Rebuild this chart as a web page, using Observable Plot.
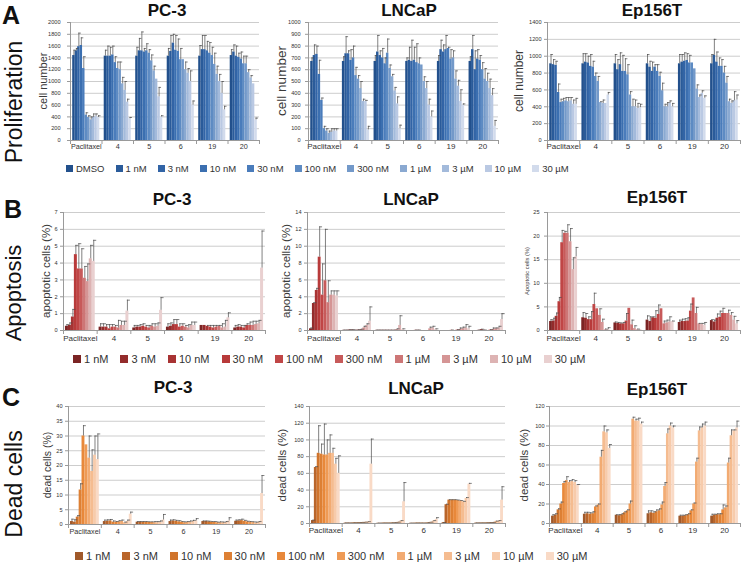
<!DOCTYPE html>
<html><head><meta charset="utf-8">
<script src="https://cdn.jsdelivr.net/npm/d3@7"></script>
<script src="https://cdn.jsdelivr.net/npm/@observablehq/plot@0.6"></script>
<style>
body{margin:0;background:#fff;}
#root{position:relative;width:745px;height:563px;overflow:hidden;font-family:"Liberation Sans",Arial,sans-serif;color:#222}
.abs{position:absolute;white-space:nowrap;line-height:1}
.legend{position:absolute;display:flex;align-items:center;white-space:nowrap;color:#333}
.legend .it{display:flex;align-items:center}
.legend .sw{display:inline-block}
</style></head>
<body><div id="root"></div>
<script>
const compounds = ["Paclitaxel", "4", "5", "6", "19", "20"];
const seriesA = ["DMSO","1 nM","3 nM","10 nM","30 nM","100 nM","300 nM","1 µM","3 µM","10 µM","30 µM"];
const seriesBC = ["1 nM","3 nM","10 nM","30 nM","100 nM","300 nM","1 µM","3 µM","10 µM","30 µM"];
const colorsA = ["#22508c","#2a5b9a","#3264a6","#3b6fb0","#4a7cbb","#5d8bc3","#7399c9","#8aa9d1","#a3badb","#bac9e3","#d2dbec"];
const colorsB = ["#7b2424","#932b2b","#a83333","#b83a3a","#c04646","#c75a5a","#cd7676","#d59595","#ddb3b3","#e9d0d0"];
const colorsC = ["#a0592a","#b9652a","#d0742c","#dd8034","#e8883a","#ee9a55","#f2ab72","#f5bc90","#f7cbab","#f9dac6"];

// A: cell number (mean, upper end of error bar), per compound
const pc3Prolif = [
 [1440,1520,1590,1610,1220,430,390,350,390,410,390],
 [1430,1430,1430,1450,1320,1220,1200,960,850,650,370],
 [1430,1520,1520,1500,1520,1480,1350,1180,1040,740,400],
 [1430,1510,1650,1530,1510,1370,1370,1200,1140,1000,600],
 [1430,1540,1540,1520,1480,1440,1290,1120,1000,800,520],
 [1440,1500,1430,1410,1380,1300,1300,1150,1060,960,350]];
const pc3ProlifUpper = [
 [1530,1560,1820,1740,1420,470,420,400,450,450,420],
 [1530,1600,1580,1600,1420,1330,1330,1070,1000,700,390],
 [1580,1730,1840,1560,1640,1540,1450,1260,1040,900,420],
 [1560,1780,1800,1780,1720,1560,1370,1330,1220,1180,670],
 [1610,1780,1780,1680,1660,1580,1480,1260,1120,1000,580],
 [1540,1620,1600,1480,1500,1430,1430,1200,1100,960,380]];
const lncapProlif = [
 [670,720,730,560,340,100,80,60,70,80,80],
 [670,735,735,680,700,550,520,440,330,330,90],
 [670,750,720,700,650,740,610,540,420,310,100],
 [670,680,670,680,660,650,640,500,440,300,200],
 [670,770,750,770,780,690,700,520,460,330,300],
 [670,770,600,690,680,600,520,500,440,380,120]];
const lncapProlifUpper = [
 [700,810,800,680,360,120,100,80,100,100,100],
 [710,880,760,770,800,620,550,500,350,340,120],
 [720,890,760,780,700,860,640,560,450,370,130],
 [700,790,850,790,820,700,640,540,500,350,250],
 [720,850,810,890,790,770,760,590,510,430,310],
 [710,890,760,770,720,660,610,570,520,440,170]];
const ep156Prolif = [
 [910,900,890,570,450,460,470,460,470,430,430],
 [910,930,920,880,870,760,700,450,440,440,540],
 [910,840,900,820,820,780,540,400,400,380,390],
 [910,870,820,870,820,760,590,400,400,440,400],
 [910,930,940,950,920,920,850,610,510,560,500],
 [910,1010,930,880,880,800,680,460,440,470,480]];
const ep156ProlifUpper = [
 [1020,960,940,670,490,500,510,510,510,480,500],
 [1030,1030,1000,1020,940,800,760,460,480,440,570],
 [1020,960,1040,1010,970,900,580,490,480,440,430],
 [1020,940,930,900,900,810,680,430,450,470,440],
 [1020,1020,1040,1030,1010,920,850,660,540,590,530],
 [1020,1200,1050,980,960,880,760,490,470,580,540]];

// B: apoptotic cells (%)
const pc3Apop = [
 [0.25,0.3,0.8,4.5,3.65,3.65,3.1,2.9,4.25,4.1],
 [0.2,0.2,0.2,0.1,0.2,0.2,0.15,0.3,0.3,1.15],
 [0.15,0.2,0.2,0.25,0.2,0.15,0.25,0.2,0.25,1.2],
 [0.2,0.25,0.35,0.35,0.2,0.25,0.2,0.15,0.3,0.3],
 [0.3,0.3,0.25,0.2,0.15,0.2,0.25,0.15,0.2,0.75],
 [0.15,0.2,0.2,0.15,0.3,0.3,0.3,0.35,0.4,3.7]];
const pc3ApopUpper = [
 [0.35,0.45,1.25,5.05,5.15,4.85,3.8,3.95,5.05,5.35],
 [0.4,0.4,0.35,0.35,0.35,0.3,0.6,0.55,0.55,1.8],
 [0.3,0.3,0.35,0.4,0.3,0.3,0.4,0.4,0.45,1.95],
 [0.4,0.45,0.65,0.65,0.4,0.4,0.3,0.35,0.5,0.5],
 [0.3,0.3,0.3,0.3,0.3,0.3,0.3,0.4,0.6,1.05],
 [0.3,0.35,0.3,0.3,0.4,0.5,0.55,0.55,0.6,5.9]];
const lncapApop = [
 [0.2,3.2,4.75,8.7,4.2,5.9,3.3,4.2,4.2,4.1],
 [0.02,0.02,0.05,0.05,0.02,0.05,0.1,0.3,0.6,1.1],
 [0.02,0.02,0.02,0.02,0.02,0.02,0.02,0.1,0.6,0.1],
 [0,0,0.02,0.02,0,0,0,0.2,0.3,0.1],
 [0,0,0,0.02,0,0.05,0.1,0.2,0.3,0.2],
 [0,0.02,0.1,0.02,0,0.05,0.1,0.2,0.3,1.3]];
const lncapApopUpper = [
 [0.3,3.3,5.0,12.3,7.9,12.0,5.9,4.7,4.7,4.7],
 [0.05,0.05,0.1,0.1,0.05,0.1,0.15,0.5,0.8,2.8],
 [0.05,0.05,0.05,0.05,0.05,0.05,0.05,0.2,1.75,0.2],
 [0,0,0.05,0.05,0,0,0,0.4,0.5,0.2],
 [0,0,0,0.05,0,0.1,0.3,0.4,0.7,0.5],
 [0,0.05,0.15,0.05,0,0.1,0.3,0.3,0.5,2.0]];
const ep156Apop = [
 [1.9,2.0,3.0,6.1,18.6,20.6,20.6,18.8,12.9,15.6],
 [2.7,2.6,2.3,2.3,5.5,4.6,3.2,1.7,0.2,0.2],
 [1.6,1.5,1.4,1.4,2.0,4.7,1.2,0.4,0.2,0.2],
 [2.2,1.9,2.7,2.6,3.4,4.6,1.4,1.6,1.8,1.9],
 [1.7,1.9,1.9,2.0,4.1,6.9,3.6,1.4,1.3,1.1],
 [2.1,1.8,2.6,2.8,3.6,3.6,3.6,3.2,2.2,1.4]];
const ep156ApopUpper = [
 [2.3,2.6,3.7,7.0,21.2,21.0,22.4,21.6,15.4,17.6],
 [3.8,3.6,2.9,4.0,7.9,4.6,4.6,2.4,0.3,0.6],
 [1.8,1.7,1.6,1.7,3.6,4.7,2.2,1.0,0.3,0.2],
 [3.1,2.9,2.9,4.2,5.4,4.6,2.0,2.2,2.9,2.0],
 [2.2,2.4,2.5,2.7,5.6,6.9,4.9,1.5,1.5,1.7],
 [2.3,2.2,3.5,4.1,4.7,3.6,4.3,3.8,3.0,2.1]];

// C: dead cells (%)
const pc3Dead = [
 [1.0,0.8,2.5,11.7,30,27,22.5,18,23.5,22],
 [1.0,1.1,1.2,0.8,0.8,0.9,1.0,0.6,1.0,3.5],
 [0.8,0.8,0.8,0.8,0.7,0.7,0.6,0.6,0.7,1.5],
 [1.0,1.2,1.1,0.9,0.8,0.6,0.7,0.8,1.0,1.2],
 [1.0,1.0,0.9,0.8,0.7,0.6,0.6,0.6,0.7,1.2],
 [1.1,1.2,1.3,1.1,0.9,0.8,0.7,0.5,0.8,10.5]];
const pc3DeadUpper = [
 [1.8,1.6,3.0,13.8,33.5,27,30,25.3,30,30.7],
 [1.5,1.6,1.7,1.2,1.0,1.3,1.5,0.8,1.5,4.2],
 [1.0,1.0,1.0,1.0,0.9,0.9,1.0,1.0,1.2,3.4],
 [1.5,1.6,1.4,1.3,1.0,0.9,1.0,1.2,1.4,2.0],
 [1.2,1.2,1.1,1.0,1.0,0.8,0.9,0.8,1.0,2.3],
 [1.5,1.6,1.8,1.4,1.1,1.0,0.9,0.8,1.0,16.6]];
const lncapDead = [
 [3.5,67,84,83,82,82,84,84,71,60],
 [0.5,0.5,0.5,0.8,0.8,1.0,1.2,1.5,2.0,71],
 [0.3,0.3,0.5,0.5,0.5,0.8,1.0,1.5,3.0,26],
 [0.3,0.3,0.5,0.5,0.5,0.5,1.0,1.5,3.0,5.0],
 [1.0,22.5,28,28,28,27.5,27,26,30,47],
 [0.5,0.5,0.6,0.6,0.8,1.0,1.2,2.5,3.0,28]];
const lncapDeadUpper = [
 [4,68,117,95,119,100,106,90,78,81],
 [0.6,0.6,0.6,0.9,0.9,1.1,1.3,1.6,2.2,101],
 [0.4,0.4,0.6,0.6,0.6,0.9,1.1,1.6,3.5,49],
 [0.4,0.4,0.6,0.6,0.6,0.6,1.1,1.6,3.5,7],
 [1.2,23,28.5,28.5,28.5,28,27.5,26.5,31,48],
 [0.6,0.6,0.7,0.7,0.9,1.1,1.3,2.8,3.5,44]];
const ep156Dead = [
 [7.5,8.5,14,20,41,44,42,43,42,39],
 [9.5,10,9.5,10,17,19,68,94,93,77],
 [8.5,8,9,11,13,20,107,105,105,102],
 [10,11,10.5,12,13,19,38,92,100,98],
 [7.5,7.5,8,9,13,20,63,95,98,100],
 [7.5,8.5,9,9,14,16,62,90,95,98]];
const ep156DeadUpper = [
 [9,10,15,22,43,48,44,45,44,40],
 [11.5,11.5,11,12,18,20,75,100,96,81],
 [9,9,10,12,14,23,109,107,108,104],
 [13,13,12,14,15,22,42,97,103,100],
 [8.5,8.5,9,10,14,21,67,99,102,104],
 [9.5,9.5,10,10,19,18,67,96,96,105]];

const FONT = '"Liberation Sans", Arial, sans-serif';
const root = document.getElementById("root");

function addText(txt, css) {
  const d = document.createElement("div");
  d.className = "abs";
  d.textContent = txt;
  Object.assign(d.style, css);
  root.appendChild(d);
  return d;
}
function vText(txt, cx, cy, size, color, weight) {
  return addText(txt, {left: cx + "px", top: cy + "px", transform: "translate(-50%,-50%) rotate(-90deg)",
    fontSize: size + "px", color: color || "#111", fontWeight: weight || "normal"});
}

function panel(p) {
  const n = p.series.length, gap = p.gap, unit = n + gap;
  const rows = [];
  p.values.forEach((vals, g) => vals.forEach((v, i) => rows.push({
    g, i, v, top: p.upper[g][i], s: p.series[i],
    x1: g * unit + gap / 2 + i, x2: g * unit + gap / 2 + i + 1
  })));
  const errs = rows.filter(d => d.top > d.v);
  const centers = compounds.map((c, g) => g * unit + unit / 2);
  const bounds = d3.range(compounds.length + 1).map(g => g * unit);
  const yTicks = d3.range(0, p.yMax + p.yStep / 2, p.yStep);
  const [fx0, fx1, fy0, fy1] = p.frame;
  const ml = 30, mr = 2, mt = 4, mb = 18;
  const chart = Plot.plot({
    width: fx1 - fx0 + ml + mr, height: fy1 - fy0 + mt + mb,
    marginLeft: ml, marginRight: mr, marginTop: mt, marginBottom: mb,
    style: {fontFamily: FONT, background: "transparent", overflow: "visible", color: "#333"},
    x: {domain: [0, compounds.length * unit], axis: null},
    y: {domain: [0, p.yMax], axis: null},
    color: {domain: p.series, range: p.colors},
    marks: [
      Plot.gridY({ticks: yTicks.slice(1), stroke: "#cdcdcd", strokeOpacity: 1}),
      Plot.rectY(rows, {x1: "x1", x2: "x2", y: "v", fill: "s"}),
      Plot.ruleX(errs, {x: d => (d.x1 + d.x2) / 2, y1: "v", y2: "top", stroke: "#4a4a4a", strokeWidth: 0.7}),
      Plot.ruleY(errs, {y: "top", x1: d => d.x1 + 0.5, x2: d => d.x1 + 1.5, stroke: "#4a4a4a", strokeWidth: 0.7}),
      Plot.ruleY([0], {stroke: "#9a9a9a"}),
      Plot.ruleX([0], {stroke: "#9a9a9a"}),
      Plot.axisY({ticks: yTicks, tickSize: 3, tickPadding: p.tickPad, fontSize: p.tickFont, stroke: "#9a9a9a", tickFormat: d => String(d), label: null}),
      Plot.axisX({ticks: bounds, tickSize: 4, stroke: "#9a9a9a", tickFormat: () => "", label: null}),
      Plot.axisX({ticks: centers, tickSize: 0, tickPadding: p.xPad, fontSize: p.xFont, tickFormat: d => compounds[Math.round((d - unit / 2) / unit)], label: null})
    ]
  });
  const wrap = document.createElement("div");
  wrap.style.position = "absolute";
  wrap.style.left = (fx0 - ml) + "px";
  wrap.style.top = (fy0 - mt) + "px";
  wrap.appendChild(chart);
  root.appendChild(wrap);
  // y-axis title, centred on the plot frame
  vText(p.ylabel, p.ylabelX, (fy0 + fy1) / 2, p.ylabelSize, "#3a3a3a");
  addText(p.title, {left: p.titleX + "px", top: (p.titleY - 14.5) + "px", transform: "translateX(-50%)",
    fontSize: "17px", fontWeight: "bold", color: "#111"});
}

function legend(series, colors, o) {
  const d = document.createElement("div");
  d.className = "legend";
  Object.assign(d.style, {left: o.x + "px", top: (o.y - 7) + "px", height: "14px", gap: o.gap + "px", fontSize: o.font + "px", fontFamily: FONT});
  series.forEach((s, i) => {
    const it = document.createElement("div"); it.className = "it";
    const sw = document.createElement("span"); sw.className = "sw";
    Object.assign(sw.style, {width: o.sw + "px", height: o.sw + "px", background: colors[i], marginRight: "3px"});
    const t = document.createElement("span"); t.textContent = s;
    it.appendChild(sw); it.appendChild(t); d.appendChild(it);
  });
  root.appendChild(d);
}

addText("A", {left: "2px", top: "3px", fontSize: "25px", fontWeight: "bold", color: "#111"});
addText("B", {left: "4px", top: "197px", fontSize: "25px", fontWeight: "bold", color: "#111"});
addText("C", {left: "2px", top: "385px", fontSize: "25px", fontWeight: "bold", color: "#111"});
vText("Proliferation", 14, 102, 23);
vText("Apoptosis", 14, 293, 22);
vText("Dead cells", 14, 484, 23);

const panels = [
 {title: "PC-3", titleX: 167, titleY: 16, values: pc3Prolif, upper: pc3ProlifUpper, series: seriesA, colors: colorsA, yMax: 2000, yStep: 200, gap: 1.8,
  frame: [70, 259, 22, 140], tickPad: 7, tickFont: 5.6, xPad: 3, xFont: 7.2, ylabel: "cell number", ylabelX: 43, ylabelSize: 11},
 {title: "LNCaP", titleX: 409, titleY: 16, values: lncapProlif, upper: lncapProlifUpper, series: seriesA, colors: colorsA, yMax: 1000, yStep: 100, gap: 1.8,
  frame: [308, 498, 22, 140], tickPad: 5, tickFont: 5.6, xPad: 3, xFont: 8, ylabel: "cell number", ylabelX: 282, ylabelSize: 13.5},
 {title: "Ep156T", titleX: 652, titleY: 16, values: ep156Prolif, upper: ep156ProlifUpper, series: seriesA, colors: colorsA, yMax: 1400, yStep: 200, gap: 1.8,
  frame: [547, 740, 22, 140], tickPad: 3, tickFont: 5.6, xPad: 3, xFont: 8, ylabel: "cell number", ylabelX: 519, ylabelSize: 12},
 {title: "PC-3", titleX: 172, titleY: 205, values: pc3Apop, upper: pc3ApopUpper, series: seriesBC, colors: colorsB, yMax: 7, yStep: 1, gap: 1.3,
  frame: [63, 265, 212, 330], tickPad: 3, tickFont: 5.6, xPad: 5, xFont: 8, ylabel: "apoptotic cells (%)", ylabelX: 47, ylabelSize: 11.5},
 {title: "LNCaP", titleX: 411, titleY: 205, values: lncapApop, upper: lncapApopUpper, series: seriesBC, colors: colorsB, yMax: 14, yStep: 2, gap: 1.4,
  frame: [307, 505, 212, 330], tickPad: 3, tickFont: 5.6, xPad: 5, xFont: 8, ylabel: "apoptotic cells (%)", ylabelX: 287, ylabelSize: 11.5},
 {title: "Ep156T", titleX: 657, titleY: 203, values: ep156Apop, upper: ep156ApopUpper, series: seriesBC, colors: colorsB, yMax: 25, yStep: 5, gap: 1.5,
  frame: [547, 740, 212, 330], tickPad: 5, tickFont: 5.6, xPad: 5, xFont: 8, ylabel: "Apoptotic cells (%)", ylabelX: 528, ylabelSize: 5.8},
 {title: "PC-3", titleX: 173, titleY: 393, values: pc3Dead, upper: pc3DeadUpper, series: seriesBC, colors: colorsC, yMax: 40, yStep: 5, gap: 1.4,
  frame: [68, 265, 406, 524], tickPad: 3, tickFont: 5.6, xPad: 4, xFont: 7.2, ylabel: "dead cells (%)", ylabelX: 47, ylabelSize: 10.5},
 {title: "LNCaP", titleX: 416, titleY: 394, values: lncapDead, upper: lncapDeadUpper, series: seriesBC, colors: colorsC, yMax: 140, yStep: 20, gap: 1.4,
  frame: [309, 505, 406, 523], tickPad: 3, tickFont: 5.6, xPad: 4, xFont: 8, ylabel: "dead cells (%)", ylabelX: 283, ylabelSize: 11.5},
 {title: "Ep156T", titleX: 657, titleY: 395, values: ep156Dead, upper: ep156DeadUpper, series: seriesBC, colors: colorsC, yMax: 120, yStep: 20, gap: 1.5,
  frame: [549, 740, 406, 523], tickPad: 2, tickFont: 5.6, xPad: 4, xFont: 8, ylabel: "dead cells (%)", ylabelX: 525, ylabelSize: 11.5}
];
panels.forEach(panel);

legend(seriesA, colorsA, {x: 66, y: 168, gap: 11, font: 9.5, sw: 7});
legend(seriesBC, colorsB, {x: 73, y: 359, gap: 12, font: 11, sw: 8});
legend(seriesBC, colorsC, {x: 75, y: 556, gap: 12, font: 11, sw: 8});
</script></body></html>
